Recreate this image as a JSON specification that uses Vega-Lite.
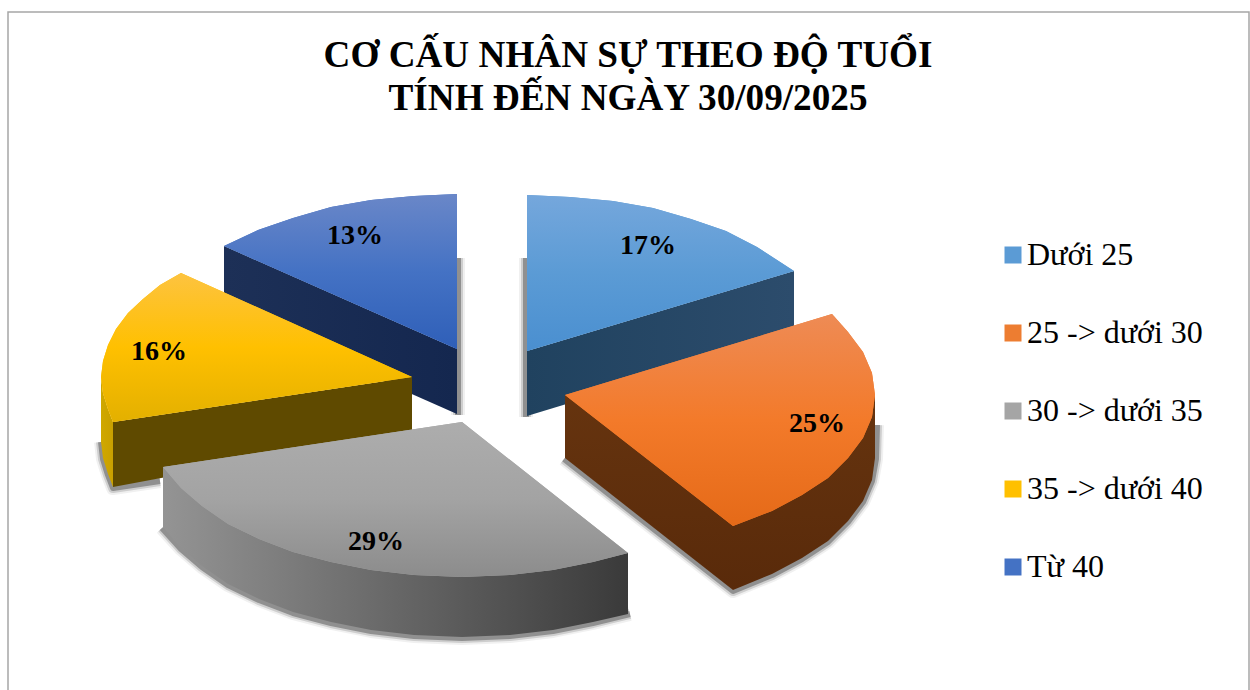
{"$schema":"https://vega.github.io/schema/vega-lite/v6.json","width":1250,"height":690,"autosize":"none","padding":0,"background":"white","config":{"view":{"stroke":null}},
"title":{"text":["CƠ CẤU NHÂN SỰ THEO ĐỘ TUỔI","TÍNH ĐẾN NGÀY 30/09/2025"],"font":"Liberation Serif","fontSize":37.2,"fontWeight":"bold","color":"#000000","anchor":"middle","frame":"group","baseline":"alphabetic","lineHeight":43,"offset":0,"dy":147,"dx":3},
"datasets":{
"slices":[{"group":"Dưới 25","share":0.17,"lx":648,"ly":246},{"group":"25 -> dưới 30","share":0.25,"lx":817,"ly":424},{"group":"30 -> dưới 35","share":0.29,"lx":376,"ly":542},{"group":"35 -> dưới 40","share":0.16,"lx":159,"ly":352},{"group":"Từ 40","share":0.13,"lx":355,"ly":236}],
"frame":[{"i":0,"x":8,"y":690},{"i":1,"x":8,"y":12},{"i":2,"x":1249,"y":12},{"i":3,"x":1249,"y":690}],
"shadows":[
{"s":"a","i":0,"x":458,"y":258},{"s":"a","i":1,"x":458,"y":415},
{"s":"b","i":0,"x":526,"y":258},{"s":"b","i":1,"x":526,"y":417},
{"s":"c","i":0,"x":101,"y":442},{"s":"c","i":1,"x":103,"y":459},{"s":"c","i":2,"x":108,"y":475},{"s":"c","i":3,"x":113,"y":488},{"s":"c","i":4,"x":160,"y":481},
{"s":"d","i":0,"x":564,"y":459},{"s":"d","i":1,"x":733,"y":591},{"s":"d","i":2,"x":772,"y":575},{"s":"d","i":3,"x":802,"y":559},{"s":"d","i":4,"x":828,"y":542},{"s":"d","i":5,"x":848,"y":522},{"s":"d","i":6,"x":863,"y":502},{"s":"d","i":7,"x":872,"y":481},{"s":"d","i":8,"x":876,"y":459},{"s":"d","i":9,"x":877,"y":425},
{"s":"e","i":0,"x":162,"y":528},{"s":"e","i":1,"x":181,"y":549},{"s":"e","i":2,"x":202,"y":567},{"s":"e","i":3,"x":228,"y":585},{"s":"e","i":4,"x":259,"y":600},{"s":"e","i":5,"x":293,"y":613},{"s":"e","i":6,"x":331,"y":623},{"s":"e","i":7,"x":371,"y":631},{"s":"e","i":8,"x":414,"y":636},{"s":"e","i":9,"x":462,"y":638},{"s":"e","i":10,"x":510,"y":636},{"s":"e","i":11,"x":553,"y":631},{"s":"e","i":12,"x":593,"y":623},{"s":"e","i":13,"x":630,"y":614}],
"sides":[
{"f":"s1","i":0,"x":224,"y":246},{"f":"s1","i":1,"x":224,"y":311},{"f":"s1","i":2,"x":457,"y":414},{"f":"s1","i":3,"x":457,"y":349},
{"f":"s2","i":0,"x":527,"y":351},{"f":"s2","i":1,"x":527,"y":416},{"f":"s2","i":2,"x":794,"y":335},{"f":"s2","i":3,"x":794,"y":271},
{"f":"s3","i":0,"x":101,"y":377},{"f":"s3","i":1,"x":101,"y":442},{"f":"s3","i":2,"x":103,"y":458},{"f":"s3","i":3,"x":108,"y":474},{"f":"s3","i":4,"x":113,"y":487},{"f":"s3","i":5,"x":113,"y":422},{"f":"s3","i":6,"x":108,"y":409},{"f":"s3","i":7,"x":103,"y":393},
{"f":"s4","i":0,"x":113,"y":422},{"f":"s4","i":1,"x":113,"y":487},{"f":"s4","i":2,"x":412,"y":431},{"f":"s4","i":3,"x":412,"y":377},
{"f":"s5","i":0,"x":565,"y":395},{"f":"s5","i":1,"x":565,"y":458},{"f":"s5","i":2,"x":733,"y":590},{"f":"s5","i":3,"x":772,"y":574},{"f":"s5","i":4,"x":802,"y":558},{"f":"s5","i":5,"x":828,"y":541},{"f":"s5","i":6,"x":848,"y":521},{"f":"s5","i":7,"x":863,"y":501},{"f":"s5","i":8,"x":872,"y":480},{"f":"s5","i":9,"x":875,"y":458},{"f":"s5","i":10,"x":875,"y":395},
{"f":"s6","i":0,"x":163,"y":467},{"f":"s6","i":1,"x":163,"y":527},{"f":"s6","i":2,"x":181,"y":548},{"f":"s6","i":3,"x":202,"y":566},{"f":"s6","i":4,"x":228,"y":584},{"f":"s6","i":5,"x":259,"y":599},{"f":"s6","i":6,"x":293,"y":612},{"f":"s6","i":7,"x":331,"y":622},{"f":"s6","i":8,"x":371,"y":630},{"f":"s6","i":9,"x":414,"y":635},{"f":"s6","i":10,"x":462,"y":637},{"f":"s6","i":11,"x":510,"y":635},{"f":"s6","i":12,"x":553,"y":630},{"f":"s6","i":13,"x":593,"y":622},{"f":"s6","i":14,"x":628,"y":614},{"f":"s6","i":15,"x":628,"y":553}],
"tops":[
{"group":"Từ 40","i":0,"x":457,"y":349},{"group":"Từ 40","i":1,"x":224,"y":246},{"group":"Từ 40","i":2,"x":258,"y":230},{"group":"Từ 40","i":3,"x":293,"y":218},{"group":"Từ 40","i":4,"x":331,"y":207},{"group":"Từ 40","i":5,"x":371,"y":200},{"group":"Từ 40","i":6,"x":414,"y":196},{"group":"Từ 40","i":7,"x":457,"y":194},
{"group":"Dưới 25","i":0,"x":527,"y":351},{"group":"Dưới 25","i":1,"x":527,"y":195},{"group":"Dưới 25","i":2,"x":570,"y":197},{"group":"Dưới 25","i":3,"x":613,"y":201},{"group":"Dưới 25","i":4,"x":653,"y":208},{"group":"Dưới 25","i":5,"x":691,"y":219},{"group":"Dưới 25","i":6,"x":726,"y":231},{"group":"Dưới 25","i":7,"x":757,"y":247},{"group":"Dưới 25","i":8,"x":794,"y":271},
{"group":"35 -> dưới 40","i":0,"x":412,"y":377},{"group":"35 -> dưới 40","i":1,"x":181,"y":273},{"group":"35 -> dưới 40","i":2,"x":160,"y":285},{"group":"35 -> dưới 40","i":3,"x":143,"y":299},{"group":"35 -> dưới 40","i":4,"x":128,"y":313},{"group":"35 -> dưới 40","i":5,"x":116,"y":329},{"group":"35 -> dưới 40","i":6,"x":108,"y":345},{"group":"35 -> dưới 40","i":7,"x":103,"y":361},{"group":"35 -> dưới 40","i":8,"x":101,"y":377},{"group":"35 -> dưới 40","i":9,"x":103,"y":393},{"group":"35 -> dưới 40","i":10,"x":108,"y":409},{"group":"35 -> dưới 40","i":11,"x":113,"y":422},
{"group":"25 -> dưới 30","i":0,"x":565,"y":395},{"group":"25 -> dưới 30","i":1,"x":832,"y":314},{"group":"25 -> dưới 30","i":2,"x":848,"y":332},{"group":"25 -> dưới 30","i":3,"x":863,"y":352},{"group":"25 -> dưới 30","i":4,"x":872,"y":373},{"group":"25 -> dưới 30","i":5,"x":875,"y":395},{"group":"25 -> dưới 30","i":6,"x":872,"y":417},{"group":"25 -> dưới 30","i":7,"x":863,"y":438},{"group":"25 -> dưới 30","i":8,"x":848,"y":458},{"group":"25 -> dưới 30","i":9,"x":828,"y":478},{"group":"25 -> dưới 30","i":10,"x":802,"y":495},{"group":"25 -> dưới 30","i":11,"x":772,"y":511},{"group":"25 -> dưới 30","i":12,"x":733,"y":526},
{"group":"30 -> dưới 35","i":0,"x":462,"y":422},{"group":"30 -> dưới 35","i":1,"x":163,"y":467},{"group":"30 -> dưới 35","i":2,"x":181,"y":488},{"group":"30 -> dưới 35","i":3,"x":202,"y":506},{"group":"30 -> dưới 35","i":4,"x":228,"y":524},{"group":"30 -> dưới 35","i":5,"x":259,"y":539},{"group":"30 -> dưới 35","i":6,"x":293,"y":552},{"group":"30 -> dưới 35","i":7,"x":331,"y":562},{"group":"30 -> dưới 35","i":8,"x":371,"y":570},{"group":"30 -> dưới 35","i":9,"x":414,"y":575},{"group":"30 -> dưới 35","i":10,"x":462,"y":577},{"group":"30 -> dưới 35","i":11,"x":510,"y":575},{"group":"30 -> dưới 35","i":12,"x":553,"y":570},{"group":"30 -> dưới 35","i":13,"x":593,"y":562},{"group":"30 -> dưới 35","i":14,"x":628,"y":553}]
},
"encoding":{"x":{"field":"x","type":"quantitative","axis":null,"scale":{"domain":[0,1250],"nice":false,"zero":false}},"y":{"field":"y","type":"quantitative","axis":null,"scale":{"domain":[690,0],"nice":false,"zero":false}},"order":{"field":"i"}},
"layer":[
{"data":{"name":"frame"},"mark":{"type":"line","stroke":"#a6a6a6","strokeWidth":1.5}},
{"data":{"name":"shadows"},"mark":{"type":"line","stroke":"#000000","strokeWidth":14,"strokeOpacity":0.06,"strokeJoin":"round"},"encoding":{"detail":{"field":"s"}}},
{"data":{"name":"shadows"},"mark":{"type":"line","stroke":"#000000","strokeWidth":10,"strokeOpacity":0.14,"strokeJoin":"round"},"encoding":{"detail":{"field":"s"}}},
{"data":{"name":"shadows"},"mark":{"type":"line","stroke":"#000000","strokeWidth":6,"strokeOpacity":0.3,"strokeJoin":"round"},"encoding":{"detail":{"field":"s"}}},
{"data":{"name":"sides"},"transform":[{"filter":"datum.f==='s1'"}],"mark":{"type":"line","filled":true,"strokeWidth":0,"fill":{"gradient":"linear","x1":0,"y1":0,"x2":1,"y2":0,"stops":[{"offset":0,"color":"#1d3057"},{"offset":1,"color":"#14274f"}]}}},
{"data":{"name":"sides"},"transform":[{"filter":"datum.f==='s2'"}],"mark":{"type":"line","filled":true,"strokeWidth":0,"fill":{"gradient":"linear","x1":0,"y1":0,"x2":1,"y2":0,"stops":[{"offset":0,"color":"#20425f"},{"offset":1,"color":"#2c4c6c"}]}}},
{"data":{"name":"sides"},"transform":[{"filter":"datum.f==='s3'"}],"mark":{"type":"line","filled":true,"strokeWidth":0,"fill":{"gradient":"linear","x1":0,"y1":0,"x2":1,"y2":0,"stops":[{"offset":0,"color":"#d0a800"},{"offset":1,"color":"#c9a000"}]}}},
{"data":{"name":"sides"},"transform":[{"filter":"datum.f==='s4'"}],"mark":{"type":"line","filled":true,"strokeWidth":0,"fill":"#5f4a00"}},
{"data":{"name":"sides"},"transform":[{"filter":"datum.f==='s5'"}],"mark":{"type":"line","filled":true,"strokeWidth":0,"fill":{"gradient":"linear","x1":0,"y1":0,"x2":0,"y2":1,"stops":[{"offset":0,"color":"#66340f"},{"offset":1,"color":"#592a0a"}]}}},
{"data":{"name":"sides"},"transform":[{"filter":"datum.f==='s6'"}],"mark":{"type":"line","filled":true,"strokeWidth":0,"fill":{"gradient":"linear","x1":0,"y1":0,"x2":1,"y2":0,"stops":[{"offset":0,"color":"#949494"},{"offset":1,"color":"#3a3a3a"}]}}},
{"data":{"name":"tops"},"mark":{"type":"line","filled":true,"strokeWidth":0},"encoding":{"color":{"field":"group","type":"nominal","scale":{"domain":["Dưới 25","25 -> dưới 30","30 -> dưới 35","35 -> dưới 40","Từ 40"],"range":["#5b9bd5","#ed7d31","#a5a5a5","#ffc000","#4472c4"]},"legend":{"title":null,"orient":"none","legendX":997,"legendY":239,"symbolType":"square","symbolSize":289,"symbolStrokeWidth":0,"labelFont":"Liberation Serif","labelFontSize":32,"labelColor":"#000000","labelOffset":-2,"rowPadding":46,"labelLimit":300}}}},
{"data":{"name":"tops"},"transform":[{"filter":"datum.group==='Dưới 25'"}],"mark":{"type":"line","filled":true,"strokeWidth":0,"fill":{"gradient":"linear","x1":0,"y1":0,"x2":0,"y2":1,"stops":[{"offset":0,"color":"#75a7dc"},{"offset":0.5,"color":"#5b9bd5"},{"offset":1,"color":"#4a8fd0"}]}}},
{"data":{"name":"tops"},"transform":[{"filter":"datum.group==='25 -> dưới 30'"}],"mark":{"type":"line","filled":true,"strokeWidth":0,"fill":{"gradient":"linear","x1":0,"y1":0,"x2":0,"y2":1,"stops":[{"offset":0,"color":"#ee8b55"},{"offset":0.5,"color":"#f37a2a"},{"offset":1,"color":"#e56a18"}]}}},
{"data":{"name":"tops"},"transform":[{"filter":"datum.group==='30 -> dưới 35'"}],"mark":{"type":"line","filled":true,"strokeWidth":0,"fill":{"gradient":"linear","x1":0,"y1":0,"x2":0,"y2":1,"stops":[{"offset":0,"color":"#adadad"},{"offset":0.5,"color":"#a3a3a3"},{"offset":1,"color":"#8c8c8c"}]}}},
{"data":{"name":"tops"},"transform":[{"filter":"datum.group==='35 -> dưới 40'"}],"mark":{"type":"line","filled":true,"strokeWidth":0,"fill":{"gradient":"linear","x1":0,"y1":0,"x2":0,"y2":1,"stops":[{"offset":0,"color":"#fdc340"},{"offset":0.5,"color":"#ffc000"},{"offset":1,"color":"#e3b000"}]}}},
{"data":{"name":"tops"},"transform":[{"filter":"datum.group==='Từ 40'"}],"mark":{"type":"line","filled":true,"strokeWidth":0,"fill":{"gradient":"linear","x1":0,"y1":0,"x2":0,"y2":1,"stops":[{"offset":0,"color":"#6a87c8"},{"offset":0.5,"color":"#4472c4"},{"offset":1,"color":"#2f5fb8"}]}}},
{"data":{"name":"slices"},"mark":{"type":"text","font":"Liberation Serif","fontSize":28,"fontWeight":"bold","color":"#000000","align":"center","baseline":"middle"},"encoding":{"x":{"field":"lx","type":"quantitative"},"y":{"field":"ly","type":"quantitative"},"order":null,"text":{"field":"share","type":"quantitative","format":".0%"}}}
]}
